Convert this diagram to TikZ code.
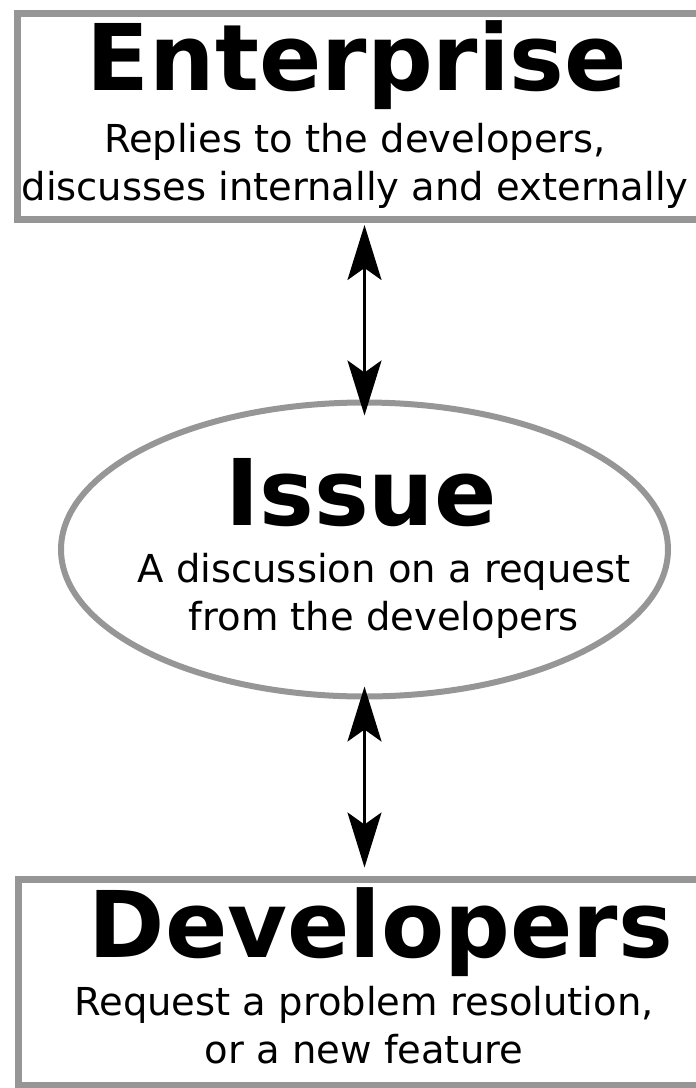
\documentclass[tikz,border=0pt]{standalone}
\usepackage{fontspec}
\setmainfont{DejaVu Sans}
\usetikzlibrary{arrows.meta,shapes.geometric}
\definecolor{rimgray}{RGB}{150,150,150}

\begin{document}
\begin{tikzpicture}[x=1pt,y=-1pt,
  box/.style={draw=rimgray,line width=7pt,fill=white,minimum width=700pt,minimum height=206pt,outer sep=0pt},
  oval/.style={ellipse,draw=rimgray,line width=6pt,minimum width=607pt,minimum height=294pt,outer sep=0pt},
  head/.style={font=\fontsize{92}{92}\selectfont\bfseries,anchor=base,inner sep=0pt},
  sub/.style={font=\fontsize{38.5}{48}\selectfont,align=center,anchor=base,inner sep=0pt},
  link/.style={<->,>={Stealth[length=55pt,width=34pt,inset=12pt]},line width=2.8pt}]
\useasboundingbox (0,0) rectangle (696,1088);
  \node[box]  (E) at (367,116)   {};
  \node[oval] (I) at (364.5,549.5) {};
  \node[box]  (D) at (368,982.5) {};

\node[head] (Et) at (357,90)  {Enterprise};
\node[sub]  (Es) at (355,200) {Replies to the developers,\\discusses internally and externally};
\node[head] (It) at (361,525) {Issue};
\node[sub]  (Is) at (384,630) {A discussion on a request\\from the developers};
\node[head] (Dt) at (381,957) {Developers};
\node[sub]  (Ds) at (364,1063) {Request a problem resolution,\\or a new feature};

  \draw[link,shorten <=6pt,shorten >=-13pt] (E.south -| I.north) -- (I.north);
  \draw[link,shorten <=-10pt,shorten >=12pt] (I.south) -- (D.north -| I.south);
\end{tikzpicture}
\end{document}
